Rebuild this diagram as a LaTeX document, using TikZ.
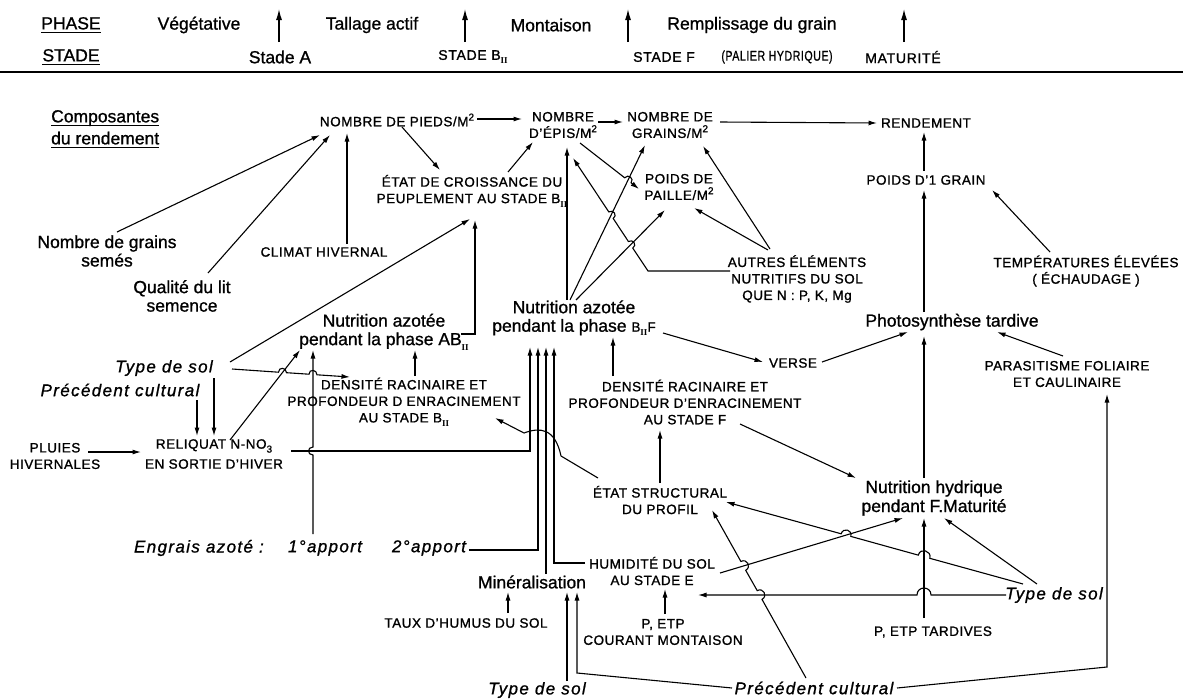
\documentclass[tikz,border=0pt]{standalone}
\usepackage{fontspec}
\usepackage{graphicx}
\setmainfont{Liberation Sans}
\newfontfamily\iifont{Liberation Serif}
\usetikzlibrary{arrows.meta,calc}
\newcommand\ulx[1]{\setbox0\hbox{#1}\rlap{\rule[-3.5pt]{\wd0}{1.2pt}}\box0}
\newcommand\BII{B\raisebox{-0.55ex}{\iifont\fontsize{9}{9}\selectfont\bfseries II}}
\newcommand\sqm{M\raisebox{0.8ex}{\fontsize{10}{10}\selectfont 2}}
\newcommand\nothree{NO\raisebox{-0.55ex}{\fontsize{10}{10}\selectfont 3}}
\begin{document}
\begin{tikzpicture}[x=1pt,y=-1pt,
  capl/.style={font=\fontsize{13.5}{16.5}\selectfont\addfontfeatures{LetterSpace=4,FakeBold=1.2}, align=center, inner sep=1pt},
  lowl/.style={font=\fontsize{17.5}{18.5}\selectfont\addfontfeatures{FakeBold=1}, align=center, inner sep=1pt},
  itl/.style={font=\fontsize{17}{20}\selectfont\itshape\addfontfeatures{LetterSpace=8,FakeBold=1}, inner sep=1pt},
  hdrl/.style={font=\fontsize{17.5}{20}\selectfont\addfontfeatures{FakeBold=1}, inner sep=1pt},
  hcapl/.style={font=\fontsize{14}{16}\selectfont\addfontfeatures{LetterSpace=5,FakeBold=1.2}, inner sep=1pt},
  arr/.style={-{Latex[length=8.5pt,width=5pt]}, line width=1.1pt},
  harr/.style={-{Latex[length=11pt,width=6pt]}, line width=1.3pt}]
\useasboundingbox (0,0) rectangle (1185,699);
\fill[white] (0,0) rectangle (1185,699);

% ---------------- header ----------------
\node[hdrl] (hphase) at (71,25) {\ulx{PHASE}};
\node[hdrl] (hstade) at (71,57) {\ulx{STADE}};
\node[hdrl] (hveg) at (199,25) {Végétative};
\node[hdrl] (htal) at (372,25) {Tallage actif};
\node[hdrl] (hmont) at (551,25) {Montaison};
\node[hdrl] (hremp) at (752,25) {Remplissage du grain};
\node[hdrl] (hsa) at (280,57) {Stade A};
\node[hcapl] (hsb) at (473,57) {STADE \BII};
\node[hcapl] (hsf) at (664,57) {STADE F};
\node[hcapl] (hpal) at (777,57) {\scalebox{0.76}[1]{(PALIER HYDRIQUE)}};
\node[hcapl] (hmat) at (903,57) {MATURITÉ};
\coordinate (ta1) at (279,9);
\coordinate (ta2) at (465,9);
\coordinate (ta3) at (628,9);
\coordinate (ta4) at (904,9);
\draw[harr] ($(hsa)+(-1,-15)$) -- (ta1);
\draw[harr] ($(hsb)+(-8,-15)$) -- (ta2);
\draw[harr] ($(hsf)+(-36,-15)$) -- (ta3);
\draw[harr] ($(hmat)+(1,-15)$) -- (ta4);
\coordinate (rl) at (0,72);
\coordinate (rr) at (1183,72);
\draw[line width=2.6pt] (rl) -- (rr);

% ---------------- nodes ----------------
\node[lowl, align=left, anchor=west, font=\fontsize{17.5}{22}\selectfont\addfontfeatures{FakeBold=1}] (comp) at (50,129) {\ulx{Composantes}\\\ulx{du rendement}};
\node[capl] (pieds) at (397,120) {NOMBRE DE PIEDS/\sqm};
\node[capl] (epis) at (563,125) {NOMBRE\\D'ÉPIS/\sqm};
\node[capl] (grains) at (670,125) {NOMBRE DE\\GRAINS/\sqm};
\node[capl] (rend) at (926,123) {RENDEMENT};
\node[capl] (etat) at (472,191) {ÉTAT DE CROISSANCE DU\\PEUPLEMENT AU STADE \BII};
\node[capl] (paille) at (679,187) {POIDS DE\\PAILLE/\sqm};
\node[capl] (poids1) at (926,180) {POIDS D'1 GRAIN};
\node[lowl] (ngs) at (107,251) {Nombre de grains\\semés};
\node[capl] (climat) at (324,252) {CLIMAT HIVERNAL};
\node[lowl] (qual) at (182,296) {Qualité du lit\\semence};
\node[capl] (autres) at (797,279) {AUTRES ÉLÉMENTS\\NUTRITIFS DU SOL\\QUE N : P, K, Mg};
\node[capl] (temp) at (1086,271) {TEMPÉRATURES ÉLEVÉES\\( ÉCHAUDAGE )};
\node[lowl] (nbf) at (574,318) {Nutrition azotée\\pendant la phase {\fontsize{13.5}{16}\selectfont\BII F}};
\node[lowl] (photo) at (952,322) {Photosynthèse tardive};
\node[lowl] (nab) at (384,332) {Nutrition azotée\\pendant la phase A\BII};
\node[itl] (tsol1) at (164,368) {Type de sol};
\node[capl] (verse) at (793,363) {VERSE};
\node[capl] (para) at (1067,374) {PARASITISME FOLIAIRE\\ET CAULINAIRE};
\node[itl] (prec1) at (120,390) {Précédent cultural};
\node[capl] (densb) at (404,402) {DENSITÉ RACINAIRE ET\\PROFONDEUR D ENRACINEMENT\\AU STADE \BII};
\node[capl] (densf) at (685,402) {DENSITÉ RACINAIRE ET\\PROFONDEUR D'ENRACINEMENT\\AU STADE F};
\node[capl] (pluies) at (55,456) {PLUIES\\HIVERNALES};
\node[capl, font=\fontsize{13.5}{20}\selectfont\addfontfeatures{LetterSpace=4,FakeBold=1.2}] (reliq) at (214,454) {RELIQUAT N-\nothree\\EN SORTIE D'HIVER};
\node[capl] (etats) at (660,500) {ÉTAT STRUCTURAL\\DU PROFIL};
\node[lowl, font=\fontsize{17.5}{19}\selectfont\addfontfeatures{FakeBold=1}] (nhyd) at (934,498) {Nutrition hydrique\\pendant F.Maturité};
\node[itl, anchor=east] (engrais) at (265,548) {Engrais azoté :};
\node[itl] (app1) at (325,548) {1°apport};
\node[itl] (app2) at (429,548) {2°apport};
\node[capl] (humid) at (652,571) {HUMIDITÉ DU SOL\\AU STADE E};
\node[lowl] (miner) at (532,582) {Minéralisation};
\node[itl] (tsol2) at (1054,595) {Type de sol};
\node[capl] (taux) at (466,623) {TAUX D'HUMUS DU SOL};
\node[capl] (petp) at (663,632) {P, ETP\\COURANT MONTAISON};
\node[capl] (petpt) at (933,632) {P, ETP TARDIVES};
\node[itl] (tsol3) at (537,690) {Type de sol};
\node[itl] (prec2) at (814,688) {Précédent cultural};

% ---------------- connectors ----------------
\draw[arr] ($(ngs)+(10,-19)$) -- ($(pieds)+(-77,15)$);
\draw[arr] ($(qual)+(26,-23)$) -- ($(pieds)+(-67,15)$);
\draw[arr] ($(climat)+(23,-8)$) -- ($(pieds)+(-50,13)$);
\draw[arr] ($(pieds)+(80,-1)$) -- ($(epis)+(-41,-6)$);
\draw[arr] ($(pieds)+(5,7)$) -- ($(etat)+(-32,-21)$);
\draw[arr] ($(etat)+(36,-19)$) -- ($(epis)+(-30,17)$);
\draw[arr] ($(epis)+(35,-3)$) -- ($(grains)+(-47,-3)$);
\draw[arr] ($(grains)+(50,-3)$) -- ($(rend)+(-49,0)$);
\draw[arr] ($(poids1)+(-2,-9)$) -- ($(rend)+(-2,9)$);
\draw[arr] ($(temp)+(-36,-19)$) -- ($(poids1)+(66,10)$);
\draw[arr] ($(photo)+(-28,-10)$) -- ($(poids1)+(-2,10)$);
\draw[arr] ($(tsol1)+(66,-6)$) -- ($(etat)+(-2,28)$);
\draw[arr] ($(nab)+(77,2)$) -- ($(nab)+(91,2)$) -- ($(etat)+(3,29)$);
\draw[arr] ($(nbf)+(-7,-18)$) -- ($(epis)+(4,22)$);
\draw[arr] ($(nbf)+(-4,-18)$) -- ($(grains)+(-25,20)$);
\draw[arr] ($(nbf)+(2,-18)$) -- ($(paille)+(-14,23)$);
\draw[arr] ($(epis)+(17,18)$) -- (624.7,177.8) .. controls (628.1,173.5) and (634.5,178.5) .. (631.1,182.8) -- ($(paille)+(-40,2)$);
\draw[arr] ($(autres)+(-27,-30)$) -- ($(grains)+(33,21)$);
\draw[arr] ($(autres)+(-29,-29)$) -- ($(paille)+(15,21)$);
\draw[arr] ($(autres)+(-67,-8)$) -- (648,271) -- (632.8,248.1) .. controls (637.4,245.1) and (633.0,238.5) .. (628.4,241.5) -- (613.2,218.5) .. controls (617.8,215.5) and (613.4,208.9) .. (608.8,211.9) -- ($(epis)+(10,33)$);
\draw[arr] ($(nbf)+(89,15)$) -- ($(verse)+(-30,-1)$);
\draw[arr] ($(verse)+(29,-1)$) -- ($(photo)+(-44,10)$);
\draw[arr] ($(para)+(-4,-18)$) -- ($(photo)+(45,10)$);
\draw[arr] ($(nhyd)+(-10,-20)$) -- ($(photo)+(-28,14)$);
\draw[arr] ($(densf)+(-72,-26)$) -- ($(nbf)+(39,19)$);
\draw[arr] ($(densf)+(55,22)$) -- ($(nhyd)+(-78,-20)$);
\draw[arr] ($(etats)+(0,-17)$) -- ($(densf)+(-25,28)$);
\draw[arr] ($(etats)+(-62,-22)$) -- (561,456) .. controls (555,428) and (540,427) .. (524,433) -- ($(densb)+(91,16)$);
\draw[arr] ($(tsol1)+(68,1)$) -- (278.5,372.2) .. controls (278.5,366.7) and (286.5,367.2) .. (286.5,372.7) -- (309,374.2) .. controls (309,368.7) and (317,369.3) .. (317,374.8) -- ($(densb)+(-54,-25)$);
\draw[arr] ($(tsol1)+(50,10)$) -- ($(reliq)+(0,-18)$);
\draw[arr] ($(prec1)+(77,10)$) -- ($(reliq)+(-17,-18)$);
\draw[arr] ($(pluies)+(33,-4)$) -- ($(reliq)+(-73,-2)$);
\draw[arr] ($(reliq)+(16,-14)$) -- ($(nab)+(-84,18)$);
\draw[arr] ($(reliq)+(77,-3)$) -| ($(nbf)+(-44,29)$);
\draw[arr] ($(app1)+(-12,-14)$) -- (313,455) .. controls (307,455) and (307,447) .. (313,447) -- ($(nab)+(-71,18)$);
\draw[arr] ($(densb)+(11,-26)$) -- ($(nab)+(31,18)$);
\draw[arr] ($(app2)+(40,2)$) -| ($(nbf)+(-36,29)$);
\draw[arr] ($(miner)+(14,-8)$) -- ($(nbf)+(-28,29)$);
\draw[arr] ($(humid)+(-67,-8)$) -| ($(nbf)+(-20,29)$);
\draw[arr] ($(taux)+(42,-10)$) -- ($(miner)+(-24,10)$);
\draw[arr] ($(tsol3)+(30,-9)$) -- ($(miner)+(35,10)$);
\draw[arr] ($(prec2)+(-82,0)$) -- ($(miner)+(45,91)$) -- ($(miner)+(45,10)$);
\draw[arr] ($(petp)+(2,-18)$) -- ($(humid)+(13,18)$);
\draw[arr] ($(tsol2)+(-48,0)$) -- (931,595) .. controls (931,585.7) and (917,585.7) .. (917,595) -- ($(humid)+(46,24)$);
\draw[arr] ($(tsol2)+(-17,-11)$) -- ($(nhyd)+(10,20)$);
\draw[arr] ($(tsol2)+(-31,-11)$) -- (929.8,558.3) .. controls (931.9,550.6) and (920.3,547.4) .. (918.2,555.1) -- (850.8,536.4) .. controls (852.7,529.7) and (843.1,527.1) .. (841.2,533.8) -- ($(etats)+(66,2)$);
\draw[arr] ($(humid)+(68,2)$) -- ($(nhyd)+(-31,20)$);
\draw[arr] ($(prec2)+(-8,-10)$) -- (762.0,599.4) .. controls (768.1,596.0) and (763.3,587.2) .. (757.2,590.6) -- (745.7,570.3) .. controls (751.8,566.9) and (747.0,558.1) .. (740.9,561.5) -- ($(etats)+(52,10)$);
\draw[arr] ($(prec2)+(83,0)$) -- ($(para)+(40,293)$) -- ($(para)+(40,20)$);
\draw[arr] ($(petpt)+(-9,-14)$) -- ($(nhyd)+(-10,20)$);
\end{tikzpicture}
\end{document}
